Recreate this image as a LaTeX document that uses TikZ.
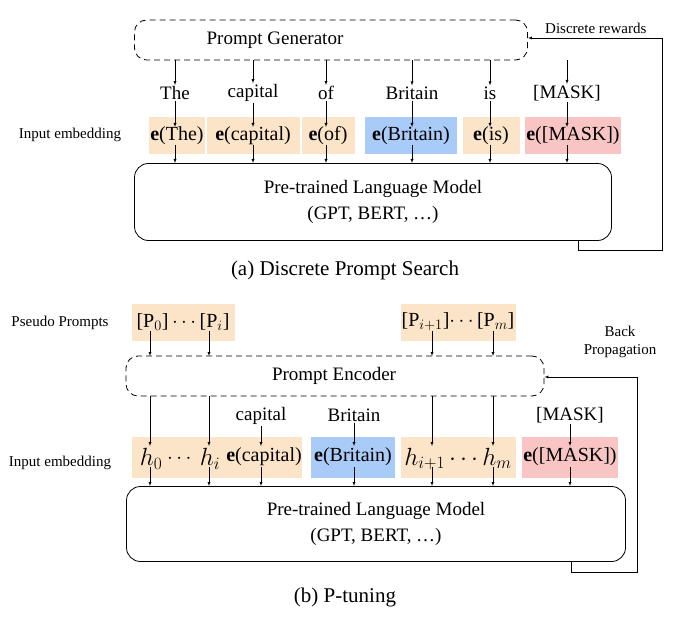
\documentclass[tikz,border=0pt]{standalone}
\usepackage{amsmath}
\usepackage{fontspec}
\setmainfont{Liberation Serif}
\usetikzlibrary{positioning}
\definecolor{embor}{HTML}{FCE4C8}
\definecolor{embbl}{HTML}{A9CBF7}
\definecolor{embpk}{HTML}{F9C4C4}
\tikzset{
    dashbox/.style={
        draw,
        dash pattern=on 6pt off 4pt,
        rounded corners=12pt,
        thick
    },
    lmbox/.style={
        draw,
        rounded corners=14pt,
        thick,
        align=center,
        font=\fontsize{19}{26}\selectfont
    },
    emb/.style={
        fill=#1,
        minimum height=37pt,
        inner sep=1pt,
        font=\fontsize{20}{22}\selectfont
    },
    word/.style={
        inner sep=1pt,
        font=\fontsize{19}{21}\selectfont
    },
    side/.style={
        font=\fontsize{15}{18}\selectfont,
        align=center
    },
    captext/.style={
        font=\fontsize{21}{24}\selectfont
    },
    arr/.style={->, >=latex}
}
\begin{document}
\begin{tikzpicture}[x=1pt, y=-1pt]
    \useasboundingbox (0,0) rectangle (676,617);
    % (a) discrete prompt search
    \node[dashbox, minimum width=393pt, minimum height=40pt] (gen) at (331,40) {};
    \node[font=\fontsize{19}{21}\selectfont] at (275,40) {Prompt Generator};
    \node[word] (w1) at (175,93) {The};
    \node[word] (w2) at (253,93) {capital};
    \node[word] (w3) at (326,93) {of};
    \node[word] (w4) at (412,93) {Britain};
    \node[word] (w5) at (490,93) {is};
    \node[word] (w6) at (567,93) {[MASK]};
    \node[emb=embor, minimum width=55pt] (e1) at (177,136) {$\mathbf{e}$(The)};
    \node[emb=embor, minimum width=93pt] (e2) at (253,136) {$\mathbf{e}$(capital)};
    \node[emb=embor, minimum width=53pt] (e3) at (328,136) {$\mathbf{e}$(of)};
    \node[emb=embbl, minimum width=92pt] (e4) at (411,136) {$\mathbf{e}$(Britain)};
    \node[emb=embor, minimum width=57pt] (e5) at (491,136) {$\mathbf{e}$(is)};
    \node[emb=embpk, minimum width=93pt] (e6) at (573,136) {$\mathbf{e}$([MASK])};
    \node[side] at (70,135) {Input embedding};
    \node[lmbox, minimum width=477pt, minimum height=77pt] (lm1) at (373,202)
        {Pre-trained Language Model\\(GPT, BERT, \dots)};
    \foreach \i/\x in {1/175,2/253,3/326,4/412,5/490,6/567} {
        \draw[arr] (\x,60) -- (w\i.north);
        \draw[arr] (w\i.south) -- (\x,127);
        \draw[arr] (\x,145) -- (\x,163);
    }
    \coordinate (fb1) at (578,250);
    \draw[arr] (578,240) -- (fb1) -| (662,38) -- (gen.east |- 0,38);
    \node[side, anchor=south west, inner sep=1pt] at (544,35) {Discrete rewards};
    \node[captext] at (345,270) {(a) Discrete Prompt Search};
    % (b) p-tuning
    \node[side] at (60,323) {Pseudo Prompts};
    \node[emb=embor, minimum width=103pt] (p1) at (183,322) {[P$_0$]$\,\cdots$[P$_i$]};
    \node[emb=embor, minimum width=115pt] (p2) at (458,322) {[P$_{i+1}$]$\cdots$[P$_m$]};
    \node[dashbox, minimum width=418pt, minimum height=40pt] (enc) at (335,376) {};
    \node[font=\fontsize{19}{21}\selectfont] at (334,376) {Prompt Encoder};
    \node[word] (v1) at (261,416) {capital};
    \node[word] (v2) at (354,415) {Britain};
    \node[word] (v3) at (570,415) {[MASK]};
    \node[emb=embor, minimum width=170pt, minimum height=41pt] (hb1) at (217,457) {};
    \node[emb=embbl, minimum width=84pt, minimum height=41pt] (hb2) at (353,457) {$\mathbf{e}$(Britain)};
    \node[emb=embor, minimum width=115pt, minimum height=41pt] (hb3) at (458,457) {};
    \node[emb=embpk, minimum width=96pt, minimum height=41pt] (hb4) at (570,457) {$\mathbf{e}$([MASK])};
    \node[font=\fontsize{24}{26}\selectfont] at (151,459) {$h_0$};
    \node[font=\fontsize{20}{22}\selectfont] at (181,459) {$\cdots$};
    \node[font=\fontsize{24}{26}\selectfont] at (210,459) {$h_i$};
    \node[font=\fontsize{20}{22}\selectfont] at (264,457) {$\mathbf{e}$(capital)};
    \node[font=\fontsize{24}{26}\selectfont] at (458,459) {$h_{i+1}\cdots h_m$};
    \node[side] at (60,463) {Input embedding};
    \node[lmbox, minimum width=499pt, minimum height=75pt] (lm2) at (376,524)
        {Pre-trained Language Model\\(GPT, BERT, \dots)};
    \foreach \x in {150,209,432,493} {
        \draw[arr] (\x,331) -- (\x,356);
        \draw[arr] (\x,396) -- (\x,446);
    }
    \foreach \i/\x in {1/261,2/354,3/570} {
        \draw[arr] (v\i.south) -- (\x,446);
    }
    \foreach \x in {150,209,261,354,432,493,570} {
        \draw[arr] (\x,467) -- (\x,486);
    }
    \coordinate (fb2) at (571,572);
    \draw[arr] (571,561) -- (fb2) -| (637,377) -- (enc.east |- 0,377);
    \node[side] at (620,342) {Back\\Propagation};
    \node[captext] at (345,597) {(b) P-tuning};
\end{tikzpicture}
\end{document}
